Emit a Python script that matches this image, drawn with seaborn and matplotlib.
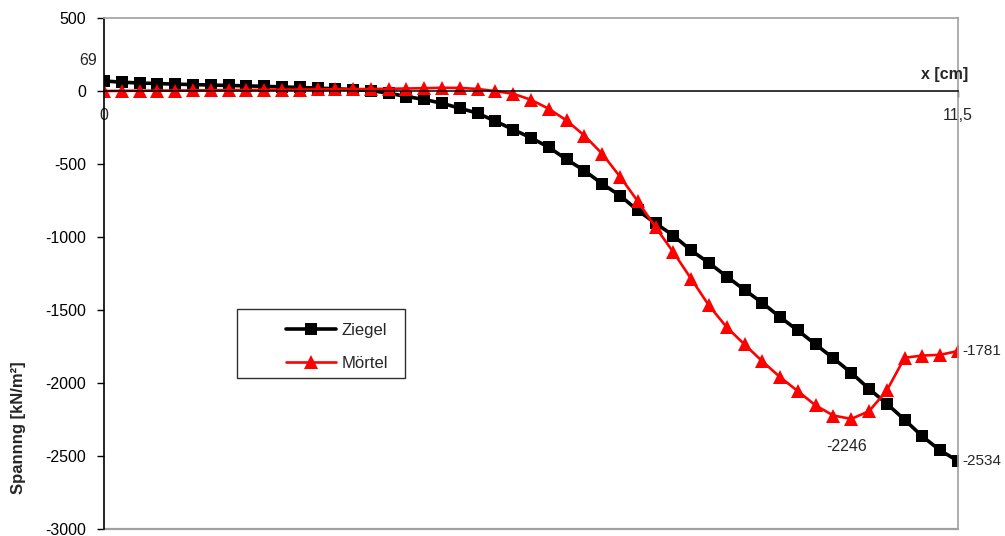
import numpy as np
import pandas as pd
import matplotlib
matplotlib.use("Agg")
import matplotlib.pyplot as plt
from matplotlib.patches import Rectangle
import seaborn as sns

# 49 evenly spaced sample positions across the 11.5 cm section
x_cm = np.linspace(0, 11.5, 49)

ziegel = [69, 60, 55, 51, 47, 44, 41, 38, 35, 32, 28, 24, 20, 15, 10, 3,
          -15, -38, -58, -84, -118, -152, -207, -264, -321, -385, -469, -545,
          -636, -716, -818, -906, -990, -1092, -1177, -1271, -1362, -1451,
          -1549, -1640, -1736, -1831, -1930, -2040, -2142, -2252, -2366,
          -2462, -2534]

moertel = [0, 1, 2, 3, 3, 4, 5, 6, 7, 8, 9, 10, 11, 12, 13, 14,
           15, 17, 19, 22, 21, 14, -1, -19, -60, -122, -202, -305,
           -430, -586, -755, -933, -1104, -1286, -1469, -1618, -1736, -1851,
           -1960, -2056, -2154, -2223, -2246, -2193, -2051, -1827, -1812,
           -1807, -1781]

y_ticks = [500, 0, -500, -1000, -1500, -2000, -2500, -3000]

df = pd.DataFrame({"x": x_cm, "Ziegel": ziegel, "Mörtel": moertel})

sns.set_style("white")
plt.rcParams["font.family"] = ["Liberation Sans", "DejaVu Sans"]

W, H = 1005, 536
FS = 11.5
fig = plt.figure(figsize=(W / 100, H / 100), dpi=100)
ax = fig.add_axes([104 / W, 1 - 529 / H, (958 - 104) / W, (529 - 18) / H])

sns.lineplot(data=df, x="x", y="Ziegel", ax=ax, color="black", lw=2.6,
             marker="s", markersize=8, markeredgewidth=0, label="Ziegel",
             legend=False)
sns.lineplot(data=df, x="x", y="Mörtel", ax=ax, color="#ff0000", lw=1.9,
             marker="^", markersize=10, markeredgewidth=0, label="Mörtel",
             legend=False)

ax.set_xlim(0, 11.5)
ax.set_ylim(-3000, 500)
ax.set_yticks(y_ticks)
ax.set_yticklabels([str(v) for v in y_ticks])
ax.tick_params(axis="y", direction="out", length=5, width=1, pad=8,
               labelsize=FS, left=True, colors="black")

# x axis sits on the zero line
ax.spines["bottom"].set_position(("data", 0))
ax.spines["bottom"].set_color("black")
ax.spines["bottom"].set_linewidth(1.1)
ax.set_xticks([0, 11.5])
ax.set_xticklabels(["0", "11,5"])
ax.tick_params(axis="x", direction="out", length=4, width=1, pad=8.5,
               labelsize=FS, bottom=True)
ax.spines["left"].set_color("black")
ax.spines["left"].set_linewidth(1.2)
for side in ["top", "right"]:
    ax.spines[side].set_color("#a0a0a0")
    ax.spines[side].set_linewidth(1.2)
ax.axhline(-3000, color="#a0a0a0", lw=1.6, clip_on=False)
ax.set_xlabel("")
ax.set_ylabel("")

# value labels
ax.annotate("69", xy=(0, ziegel[0]), xytext=(-5, 15), textcoords="offset points",
            ha="right", va="center", fontsize=FS)
ax.annotate("-2534", xy=(11.5, ziegel[-1]), xytext=(3, 0), textcoords="offset points",
            ha="left", va="center", fontsize=11, annotation_clip=False)
ax.annotate("-1781", xy=(11.5, moertel[-1]), xytext=(3, 0), textcoords="offset points",
            ha="left", va="center", fontsize=11, annotation_clip=False)
i_min = int(np.argmin(moertel))
ax.annotate("-2246", xy=(x_cm[i_min], moertel[i_min]), xytext=(-3, -20),
            textcoords="offset points", ha="center", va="center", fontsize=FS)

fig.text(968 / W, 1 - 74 / H, "x [cm]", ha="right", va="center",
         fontsize=FS, fontweight="bold")
fig.text(18 / W, 1 - 428 / H, "Spannng [kN/m²]", rotation=90, ha="center",
         va="center", fontsize=12, fontweight="bold")

# legend with a plain box
fig.patches.append(Rectangle((237 / W, 1 - 378 / H), (405 - 237) / W, (378 - 309) / H,
                             transform=fig.transFigure, fill=True, facecolor="white",
                             edgecolor="#303030", lw=1.0, zorder=3))
leg = fig.legend(handles=ax.get_lines()[:2], labels=["Ziegel", "Mörtel"],
                 loc="upper left", bbox_to_anchor=(283 / W, 1 - 320 / H),
                 frameon=False, fontsize=12, handlelength=3.0, handletextpad=0.3,
                 labelspacing=1.05, borderpad=0.2, borderaxespad=0)
leg.set_zorder(4)

fig.savefig("out.png", dpi=100)
